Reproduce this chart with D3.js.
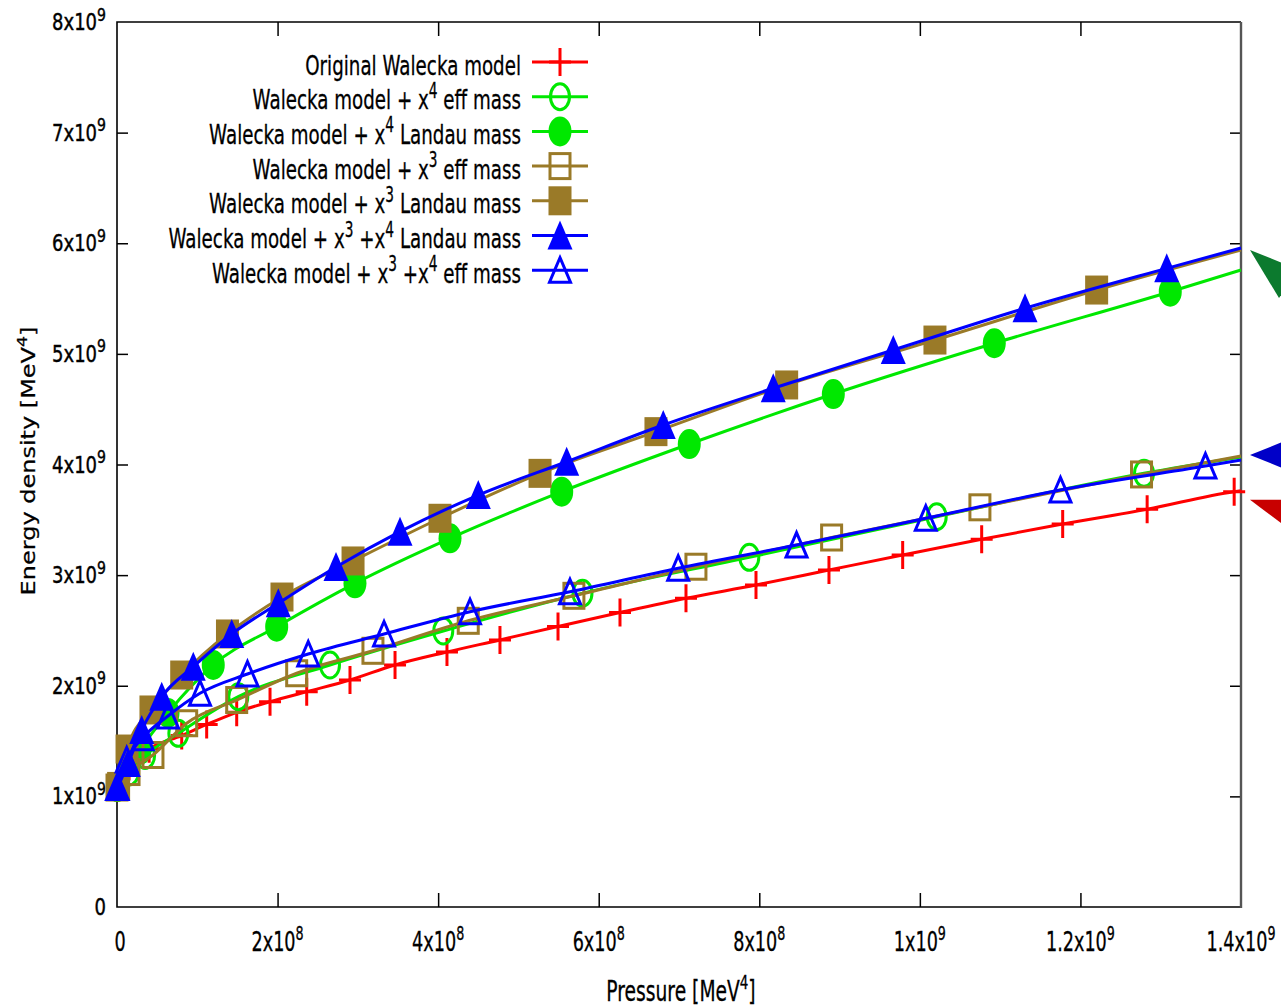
<!DOCTYPE html>
<html>
<head>
<meta charset="utf-8">
<script src="https://cdn.jsdelivr.net/npm/d3@7"></script>
<style>
  body { margin: 0; background: #fff; }
  svg { display: block; }
</style>
</head>
<body>
<svg id="chart" width="1281" height="1008"></svg>
<script>
// ---- axis ticks ----
const xTickValues = [0, 2e8, 4e8, 6e8, 8e8, 1e9, 1.2e9, 1.4e9];
const xTickLabels = ["0", "2x10^8", "4x10^8", "6x10^8", "8x10^8", "1x10^9", "1.2x10^9", "1.4x10^9"];
const yTickValues = [0, 1e9, 2e9, 3e9, 4e9, 5e9, 6e9, 7e9, 8e9];
const yTickLabels = ["0", "1x10^9", "2x10^9", "3x10^9", "4x10^9", "5x10^9", "6x10^9", "7x10^9", "8x10^9"];

// ---- series: pressure [MeV^4] and energy density [MeV^4] ----
const origP = [0, 1.5e7, 4.0e7, 8.06e7, 1.117e8, 1.491e8, 1.906e8, 2.363e8, 2.902e8, 3.463e8, 4.110e8, 4.770e8, 5.493e8, 6.265e8, 7.087e8, 7.959e8, 8.868e8, 9.786e8, 1.077e9, 1.1779e9, 1.2831e9, 1.3915e9];
const origE = [1.08e9, 1.27e9, 1.43e9, 1.55e9, 1.65e9, 1.76e9, 1.856e9, 1.946e9, 2.052e9, 2.188e9, 2.305e9, 2.414e9, 2.536e9, 2.662e9, 2.791e9, 2.911e9, 3.046e9, 3.182e9, 3.324e9, 3.462e9, 3.595e9, 3.754e9];

const x4EffP = [0, 1.5e7, 3.5e7, 7.64e7, 1.511e8, 2.653e8, 4.064e8, 5.798e8, 7.876e8, 1.021e9, 1.2792e9];
const x4EffE = [1.08e9, 1.22e9, 1.37e9, 1.570e9, 1.901e9, 2.188e9, 2.495e9, 2.836e9, 3.161e9, 3.528e9, 3.920e9];

const x4LandauP = [1e6, 2.86e7, 6.35e7, 1.199e8, 1.989e8, 2.964e8, 4.148e8, 5.539e8, 7.128e8, 8.922e8, 1.0927e9, 1.3119e9];
const x4LandauE = [1.085e9, 1.419e9, 1.754e9, 2.188e9, 2.534e9, 2.926e9, 3.333e9, 3.754e9, 4.185e9, 4.637e9, 5.096e9, 5.562e9];

const x3EffP = [0, 1.5e7, 4.48e7, 8.68e7, 1.491e8, 2.238e8, 3.188e8, 4.375e8, 5.691e8, 7.211e8, 8.901e8, 1.0748e9, 1.2761e9];
const x3EffE = [1.08e9, 1.22e9, 1.374e9, 1.661e9, 1.871e9, 2.113e9, 2.316e9, 2.587e9, 2.813e9, 3.076e9, 3.340e9, 3.613e9, 3.910e9];

const x3LandauP = [2e6, 1.25e7, 4.23e7, 8.06e7, 1.376e8, 2.055e8, 2.940e8, 4.023e8, 5.269e8, 6.713e8, 8.341e8, 1.0188e9, 1.2202e9];
const x3LandauE = [1.09e9, 1.428e9, 1.781e9, 2.097e9, 2.468e9, 2.802e9, 3.128e9, 3.514e9, 3.920e9, 4.297e9, 4.719e9, 5.125e9, 5.577e9];

const x34LandauP = [1.2e6, 1.41e7, 3.08e7, 5.57e7, 9.50e7, 1.429e8, 2.009e8, 2.728e8, 3.525e8, 4.500e8, 5.601e8, 6.804e8, 8.174e8, 9.669e8, 1.1310e9, 1.3075e9];
const x34LandauE = [1.085e9, 1.302e9, 1.600e9, 1.901e9, 2.172e9, 2.468e9, 2.745e9, 3.073e9, 3.393e9, 3.724e9, 4.025e9, 4.357e9, 4.689e9, 5.035e9, 5.412e9, 5.773e9];

const x34EffP = [0, 1.21e7, 3.2e7, 6.35e7, 1.034e8, 1.625e8, 2.382e8, 3.326e8, 4.397e8, 5.642e8, 6.990e8, 8.464e8, 1.0074e9, 1.1751e9, 1.3557e9];
const x34EffE = [1.08e9, 1.329e9, 1.53e9, 1.727e9, 1.932e9, 2.106e9, 2.287e9, 2.468e9, 2.669e9, 2.850e9, 3.062e9, 3.272e9, 3.514e9, 3.770e9, 3.986e9];

const seriesNames = [
  "Original Walecka model",
  "Walecka model + x^4 eff mass",
  "Walecka model + x^4 Landau mass",
  "Walecka model + x^3 eff mass",
  "Walecka model + x^3 Landau mass",
  "Walecka model + x^3 +x^4 Landau mass",
  "Walecka model + x^3 +x^4 eff mass"
];
// energy density of each curve where it meets the right border (P = 1.4x10^9)
const edgeE = [3.762e9, 4.068e9, 5.758e9, 4.077e9, 5.939e9, 5.957e9, 4.041e9];
const seriesColors = ["#ff0000", "#00e800", "#00e800", "#9a7a28", "#9a7a28", "#0000ff", "#0000ff"];
const seriesMarkers = ["plus", "circleOpen", "circleFilled", "squareOpen", "squareFilled", "triFilled", "triOpen"];
const seriesP = [origP, x4EffP, x4LandauP, x3EffP, x3LandauP, x34LandauP, x34EffP];
const seriesE = [origE, x4EffE, x4LandauE, x3EffE, x3LandauE, x34LandauE, x34EffE];

const P_MAX = 1.4e9, E_MAX = 8e9;

// ---- layout ----
const svg = d3.select("#chart");
const plot = { left: 117, right: 1241, top: 22, bottom: 907 };
const x = d3.scaleLinear().domain([0, P_MAX]).range([plot.left, plot.right]);
const y = d3.scaleLinear().domain([0, E_MAX]).range([plot.bottom, plot.top]);

const FONT = "'DejaVu Sans', Verdana, sans-serif";

// text with ^n superscripts, drawn in a stretched frame
function richText(parent, str, opt) {
  const g = parent.append("g")
    .attr("transform", `translate(${opt.x},${opt.y})` + (opt.rotate ? ` rotate(${opt.rotate})` : "") + ` scale(${opt.sx},${opt.sy})`);
  const t = g.append("text")
    .attr("text-anchor", opt.anchor || "start")
    .attr("font-family", FONT)
    .attr("font-size", opt.size)
    .attr("fill", opt.fill || "#000")
    .attr("stroke", "#000")
    .attr("stroke-width", opt.weight || 0.25);
  const parts = str.split(/\^(\S)/);
  const supSize = opt.size * (opt.supScale || 0.72);
  const rise = opt.size * 0.42;
  parts.forEach((p, i) => {
    if (p === "") return;
    if (i % 2 === 1) {
      t.append("tspan").attr("font-size", supSize).attr("dy", -rise).text(p);
    } else {
      const ts = t.append("tspan").text(p);
      if (i > 0) ts.attr("dy", rise);
    }
  });
  return g;
}

// ---- frame and ticks ----
const axes = svg.append("g");
function tickAxis(axisFn, scale, values, size, tx, ty) {
  const a = axes.append("g").attr("transform", `translate(${tx},${ty})`)
    .call(axisFn(scale).tickValues(values).tickSize(size).tickFormat(""));
  a.select(".domain").remove();
  a.selectAll(".tick line").attr("stroke", "#000").attr("stroke-width", 1.5);
  return a;
}
const yInner = yTickValues.slice(1, -1);
const xInner = xTickValues.slice(1, -1);
tickAxis(d3.axisLeft, y, yInner, -11, plot.left, 0);
tickAxis(d3.axisRight, y, yInner, -11, plot.right, 0);
tickAxis(d3.axisBottom, x, xInner, -14, 0, plot.bottom);
tickAxis(d3.axisTop, x, xInner, -14, 0, plot.top);

axes.append("path")
  .attr("d", `M${plot.right},${plot.top} H${plot.left} V${plot.bottom} H${plot.right}`)
  .attr("fill", "none").attr("stroke", "#000").attr("stroke-width", 1.6);
axes.append("line")
  .attr("x1", plot.right).attr("x2", plot.right).attr("y1", plot.top).attr("y2", plot.bottom + 1)
  .attr("stroke", "#555").attr("stroke-width", 2.4);

// tick labels
yTickValues.forEach((v, i) => {
  richText(svg, yTickLabels[i], { x: 106, y: y(v) + 8, size: 18, sx: 1.0, sy: 1.25, anchor: "end", supScale: 0.78, weight: 0.35 });
});
xTickValues.forEach((v, i) => {
  richText(svg, xTickLabels[i], { x: x(v) + (i === 0 ? 3 : 0), y: 951, size: 21, sx: 0.84, sy: 1.3, anchor: "middle" });
});

// axis titles
richText(svg, "Pressure [MeV^4]", { x: 681, y: 1001, size: 21.5, sx: 0.87, sy: 1.3, anchor: "middle" });
richText(svg, "Energy density [MeV^4]", { x: 35, y: 461, size: 20, sx: 1.2, sy: 1.0, anchor: "middle", rotate: -90 });

// ---- markers ----
function drawMarker(g, type, color) {
  switch (type) {
    case "plus":
      g.append("path").attr("d", "M-11,0H11M0,-14V14")
        .attr("stroke", color).attr("stroke-width", 3).attr("fill", "none");
      break;
    case "circleOpen":
      g.append("ellipse").attr("rx", 9.5).attr("ry", 13)
        .attr("fill", "none").attr("stroke", color).attr("stroke-width", 3);
      break;
    case "circleFilled":
      g.append("ellipse").attr("rx", 11.5).attr("ry", 15).attr("fill", color);
      break;
    case "squareOpen":
      g.append("rect").attr("x", -10).attr("y", -12.5).attr("width", 20).attr("height", 25)
        .attr("fill", "none").attr("stroke", color).attr("stroke-width", 3);
      break;
    case "squareFilled":
      g.append("rect").attr("x", -11.5).attr("y", -14.5).attr("width", 23).attr("height", 29).attr("fill", color);
      break;
    case "triFilled":
      g.append("path").attr("d", "M0,-15L12.5,14L-12.5,14Z").attr("fill", color);
      break;
    case "triOpen":
      g.append("path").attr("d", "M0,-12.5L10.5,12L-10.5,12Z")
        .attr("fill", "none").attr("stroke", color).attr("stroke-width", 3).attr("stroke-linejoin", "miter");
      break;
  }
}

// ---- curves ----
const line = d3.line().x(d => x(d[0])).y(d => y(d[1])).curve(d3.curveMonotoneX);
const curves = svg.append("g");

seriesNames.forEach((name, s) => {
  const pts = seriesP[s].map((p, i) => [p, seriesE[s][i]]);
  const linePts = pts.concat([[P_MAX, edgeE[s]]]);
  const g = curves.append("g");
  g.append("path").datum(linePts)
    .attr("d", line)
    .attr("fill", "none")
    .attr("stroke", seriesColors[s])
    .attr("stroke-width", 3)
    .attr("stroke-linejoin", "round");
  g.selectAll("g.mk").data(pts).join("g")
    .attr("class", "mk")
    .attr("transform", d => `translate(${x(d[0])},${y(d[1])})`)
    .each(function () { drawMarker(d3.select(this), seriesMarkers[s], seriesColors[s]); });
});

// ---- legend ----
const legend = svg.append("g");
const legTop = 62, legStep = 34.7, legTextX = 521, legLine0 = 532, legLine1 = 588;
seriesNames.forEach((name, s) => {
  const cy = legTop + s * legStep;
  richText(legend, name, { x: legTextX, y: cy + 12.5, size: 21, sx: 0.87, sy: 1.3, anchor: "end", supScale: 0.75 });
  legend.append("line").attr("x1", legLine0).attr("x2", legLine1).attr("y1", cy).attr("y2", cy)
    .attr("stroke", seriesColors[s]).attr("stroke-width", 3);
  const mg = legend.append("g").attr("transform", `translate(${(legLine0 + legLine1) / 2},${cy})`);
  drawMarker(mg, seriesMarkers[s], seriesColors[s]);
});

// ---- pointers at the right margin marking the curve families ----
const pointerColors = ["#0c7a2e", "#0000c8", "#c80000"];
const pointerAnchor = [edgeE[5], edgeE[1], edgeE[0]];
const pointerShapes = [
  [[0, 2], [50, 22], [29, 50]],
  [[0, -2], [50, -22], [50, 18]],
  [[0, 9], [60, 9], [60, 54]]
];
pointerShapes.forEach((shape, i) => {
  const tx = x(P_MAX) + 9, ty = y(pointerAnchor[i]);
  svg.append("path")
    .attr("d", "M" + shape.map(([dx, dy]) => `${tx + dx},${ty + dy}`).join("L") + "Z")
    .attr("fill", pointerColors[i]);
});
</script>
</body>
</html>
